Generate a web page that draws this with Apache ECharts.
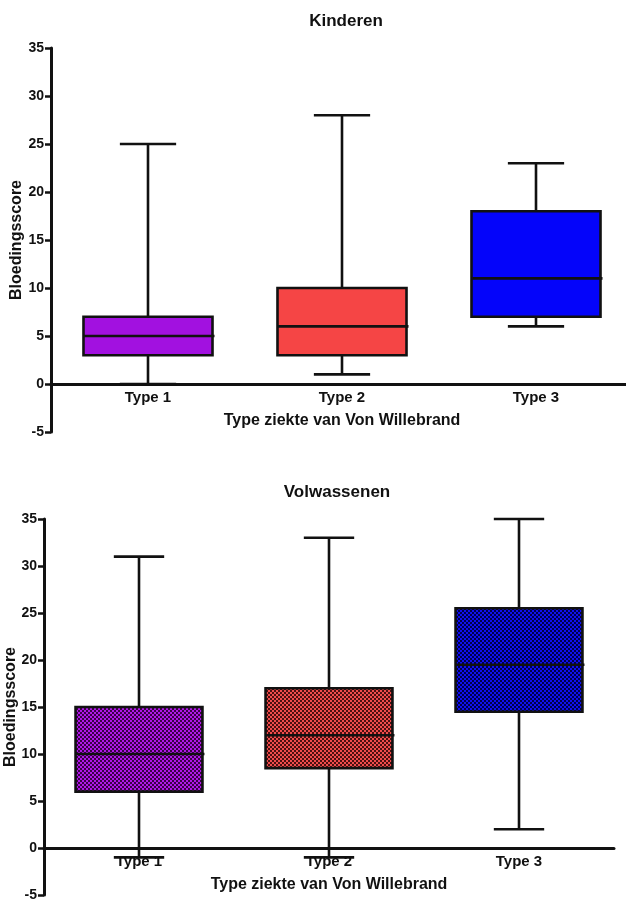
<!DOCTYPE html>
<html>
<head>
<meta charset="utf-8">
<script src="https://cdn.jsdelivr.net/npm/echarts@6/dist/echarts.min.js"></script>
<style>
html,body{margin:0;padding:0;background:#fff;}
#chart{width:626px;height:901px;}
</style>
</head>
<body>
<div id="chart"></div>
<script>
// ---- data ----
const categories = ['Type 1', 'Type 2', 'Type 3'];
const yTicksMin = -5, yTicksMax = 35, yTickStep = 5;

// Kinderen (children)
const kinderenMin    = [0, 1, 6];
const kinderenQ1     = [3, 3, 7];
const kinderenMedian = [5, 6, 11];
const kinderenQ3     = [7, 10, 18];
const kinderenMax    = [25, 28, 23];

// Volwassenen (adults)
const volwMin    = [-1, -1, 2];
const volwQ1     = [6, 8.5, 14.5];
const volwMedian = [10, 12, 19.5];
const volwQ3     = [15, 17, 25.5];
const volwMax    = [31, 33, 35];

const titles = ['Kinderen', 'Volwassenen'];
const xAxisName = 'Type ziekte van Von Willebrand';
const yAxisName = 'Bloedingsscore';

// ---- styles ----
const FONT = "'Liberation Sans', Arial, sans-serif";
const topColors = ['#A211E0', '#F54545', '#0404FA'];
const botLight = ['#B018E8', '#F04C4C', '#1010F0'];
const botDark = ['#3A0048', '#4A1010', '#00004A'];

function checker(light, dark) {
  const c = document.createElement('canvas');
  c.width = 4; c.height = 4;
  const g = c.getContext('2d');
  g.fillStyle = light; g.fillRect(0, 0, 4, 4);
  g.fillStyle = dark;
  g.fillRect(0, 0, 2, 2);
  g.fillRect(2, 2, 2, 2);
  return { image: c, repeat: 'repeat' };
}
const botFills = botLight.map((l, i) => checker(l, botDark[i]));

function buildData(mn, q1, med, q3, mx) {
  return categories.map((c, i) => [i, mn[i], q1[i], med[i], q3[i], mx[i]]);
}

function makeRender(fills, boxRatio, capRatio) {
  return function (params, api) {
    const idx = api.value(0);
    const band = api.size([1, 0])[0];
    const pMin = api.coord([idx, api.value(1)]);
    const pQ1 = api.coord([idx, api.value(2)]);
    const pMed = api.coord([idx, api.value(3)]);
    const pQ3 = api.coord([idx, api.value(4)]);
    const pMax = api.coord([idx, api.value(5)]);
    const cx = pMed[0];
    const bw = band * boxRatio;
    const cw = band * capRatio;
    const ls = { stroke: '#111', lineWidth: 2.6 };
    return {
      type: 'group',
      children: [
        { type: 'line', shape: { x1: cx, y1: pQ3[1], x2: cx, y2: pMax[1] }, style: ls },
        { type: 'line', shape: { x1: cx - cw / 2, y1: pMax[1], x2: cx + cw / 2, y2: pMax[1] }, style: ls },
        { type: 'line', shape: { x1: cx, y1: pQ1[1], x2: cx, y2: pMin[1] }, style: ls },
        { type: 'line', shape: { x1: cx - cw / 2, y1: pMin[1], x2: cx + cw / 2, y2: pMin[1] }, style: ls },
        { type: 'rect', shape: { x: cx - bw / 2, y: pQ3[1], width: bw, height: pQ1[1] - pQ3[1] },
          style: { fill: fills[idx], stroke: '#111', lineWidth: 2.6 } },
        { type: 'line', shape: { x1: cx - bw / 2, y1: pMed[1], x2: cx + bw / 2 + 2, y2: pMed[1] }, style: ls }
      ]
    };
  };
}

function xAxisCfg(gridIndex, offset) {
  return {
    type: 'category', gridIndex, data: categories, boundaryGap: true,
    position: 'bottom', offset: offset,
    axisLine: { onZero: false, lineStyle: { color: '#111', width: 3 } },
    axisTick: { alignWithLabel: true, length: 4, lineStyle: { color: '#111', width: 2.5 } },
    axisLabel: { color: '#111', fontFamily: FONT, fontWeight: 'bold', fontSize: 15, margin: 6 },
    splitLine: { show: false },
    name: xAxisName, nameLocation: 'middle', nameGap: 29, nameMoveOverlap: false,
    nameTextStyle: { color: '#111', fontFamily: FONT, fontWeight: 'bold', fontSize: 16 }
  };
}
function yAxisCfg(gridIndex, gap) {
  return {
    type: 'value', gridIndex, min: yTicksMin, max: yTicksMax, interval: yTickStep,
    axisLine: { show: true, onZero: false, lineStyle: { color: '#111', width: 3 } },
    axisTick: { show: true, length: 6, lineStyle: { color: '#111', width: 2.5 } },
    axisLabel: { color: '#111', fontFamily: FONT, fontWeight: 'bold', fontSize: 14, margin: 7 },
    splitLine: { show: false },
    name: yAxisName, nameLocation: 'middle', nameGap: gap, nameMoveOverlap: false,
    nameTextStyle: { color: '#111', fontFamily: FONT, fontWeight: 'bold', fontSize: 16 }
  };
}

const chart = echarts.init(document.getElementById('chart'), null, { renderer: 'canvas' });
chart.setOption({
  animation: false,
  backgroundColor: '#fff',
  title: [
    { text: titles[0], left: 341, top: 8, textAlign: 'center',
      textStyle: { color: '#111', fontFamily: FONT, fontWeight: 'bold', fontSize: 17 } },
    { text: titles[1], left: 332, top: 479, textAlign: 'center',
      textStyle: { color: '#111', fontFamily: FONT, fontWeight: 'bold', fontSize: 17 } }
  ],
  grid: [
    { left: 51, top: 48, width: 582, height: 384, containLabel: false, outerBoundsMode: 'none' },
    { left: 44, top: 519, width: 570, height: 376, containLabel: false, outerBoundsMode: 'none' }
  ],
  xAxis: [xAxisCfg(0, -48), xAxisCfg(1, -47)],
  yAxis: [yAxisCfg(0, 26), yAxisCfg(1, 25)],
  series: [
    { type: 'custom', xAxisIndex: 0, yAxisIndex: 0, clip: false,
      renderItem: makeRender(topColors, 0.665, 0.29),
      encode: { x: 0, y: [1, 2, 3, 4, 5] },
      data: buildData(kinderenMin, kinderenQ1, kinderenMedian, kinderenQ3, kinderenMax) },
    { type: 'custom', xAxisIndex: 1, yAxisIndex: 1, clip: false,
      renderItem: makeRender(botFills, 0.668, 0.265),
      encode: { x: 0, y: [1, 2, 3, 4, 5] },
      data: buildData(volwMin, volwQ1, volwMedian, volwQ3, volwMax) }
  ]
});
</script>
</body>
</html>
